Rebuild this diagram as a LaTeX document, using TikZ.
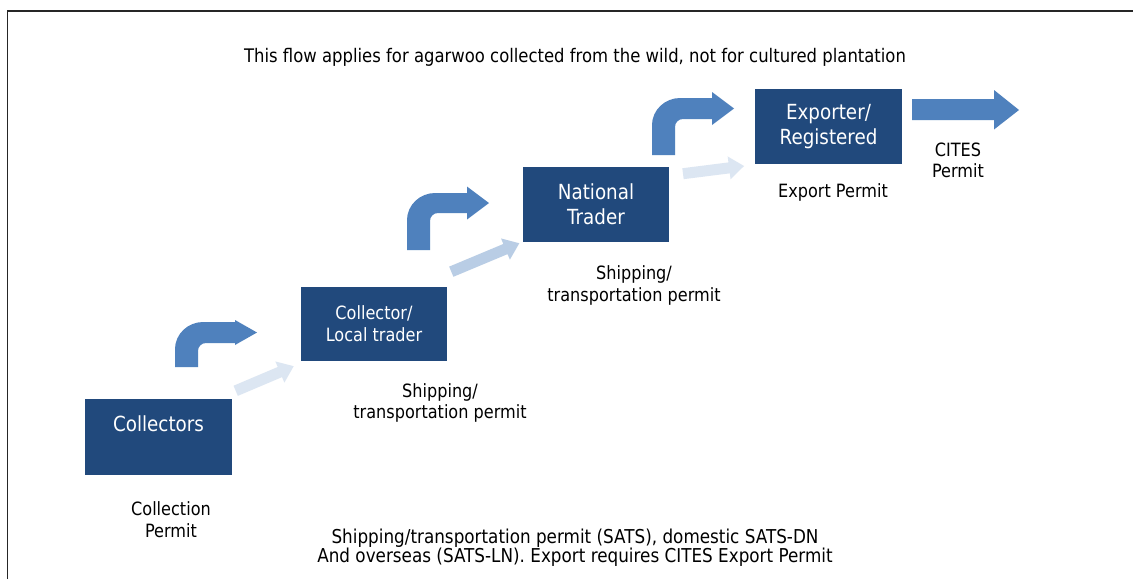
\documentclass[tikz,border=0pt]{standalone}
\usepackage{fontspec}
\setmainfont{DejaVu Sans}[FakeStretch=0.88]
\definecolor{boxblue}{RGB}{33,73,124}
\definecolor{midblue}{RGB}{79,129,189}
\definecolor{paleblue}{RGB}{220,230,242}
\definecolor{lightblue}{RGB}{185,205,229}
\newcommand\myBent[5]{%
  \fill[midblue, shift={(#1,#2)}] (0,#3) -- (0,27) .. controls (0,12) and (13,0) .. (28,0)
    -- (60,0) -- (60,{#5/2-#4}) -- (82,{#5/2}) -- (60,{#5/2+#4}) -- (60,#5)
    -- (31,#5) .. controls (26.5,#5) and (23,{#5+3.5}) .. (23,{#5+8}) -- (23,#3) -- cycle;}
\newcommand\myStraight[5]{%
  \fill[#5, shift={(#1,#2)}, rotate=#3] (0,-5.5) -- ({#4-15},-5.5) -- ({#4-15},-11.5)
    -- (#4,0) -- ({#4-15},11.5) -- ({#4-15},5.5) -- (0,5.5) -- cycle;}
\begin{document}
\begin{tikzpicture}[x=1pt,y=-1pt,
  stepbox/.style={fill=boxblue, text=white, inner sep=0pt, align=center,
    minimum width=147pt, minimum height=76pt},
  bigtxt/.style={font=\fontsize{20.8}{25}\selectfont},
  midtxt/.style={font=\fontsize{18.3}{22}\selectfont},
  lbl/.style={align=center, inner sep=0pt, font=\fontsize{18.3}{21}\selectfont}]
\useasboundingbox (0,0) rectangle (1133,579);
\fill[white] (0,0) rectangle (1133,579);
\draw[line width=1.6pt, black!85] (7.3,579) -- (7.3,10.7) -- (1133,10.7);

% boxes
\node[stepbox, bigtxt] (coll) at (158.5,436.5) {Collectors\\\mbox{}};
\node[stepbox, midtxt, minimum width=146pt, minimum height=74pt] (local) at (374,324) {Collector/\\Local trader};
\node[stepbox, bigtxt, minimum width=146pt, minimum height=75pt] (nat) at (596,204.5) {National\\Trader};
\node[stepbox, bigtxt, minimum height=75pt] (exp) at (828.5,126.5) {Exporter/\\Registered};

% bent arrows
\myBent{175}{322}{45}{12.5}{21}
\myBent{407}{193}{57}{16.5}{20}
\myBent{652}{98}{57}{16.5}{21}

% straight light arrows
\myStraight{235.7}{390.8}{23}{63}{paleblue}
\myStraight{451.3}{271.7}{22.7}{73.7}{lightblue}
\myStraight{683}{173.7}{7.2}{61.5}{paleblue}

% big export arrow
\fill[midblue] (912,99) -- (994,99) -- (994,90) -- (1019,110) -- (994,129.5) -- (994,120) -- (912,120) -- cycle;

% labels
\node[lbl, font=\fontsize{18.7}{21}\selectfont] (title) at (575,57) {This flow applies for agarwoo collected from the wild, not for cultured plantation};
\node[lbl, font=\fontsize{18.3}{22}\selectfont] (cperm) at (171,520) {Collection\\Permit};
\node[lbl] (ship1) at (440,403) {Shipping/\\transportation permit};
\node[lbl, font=\fontsize{18.3}{22}\selectfont] (ship2) at (634,285) {Shipping/\\transportation permit};
\node[lbl] (eperm) at (833,192) {Export Permit};
\node[lbl] (cites) at (958,160.5) {CITES\\Permit};
\node[lbl, font=\fontsize{19.1}{19}\selectfont] (note) at (575,548) {Shipping/transportation permit (SATS), domestic SATS-DN\\And overseas (SATS-LN). Export requires CITES Export Permit};
\end{tikzpicture}
\end{document}
